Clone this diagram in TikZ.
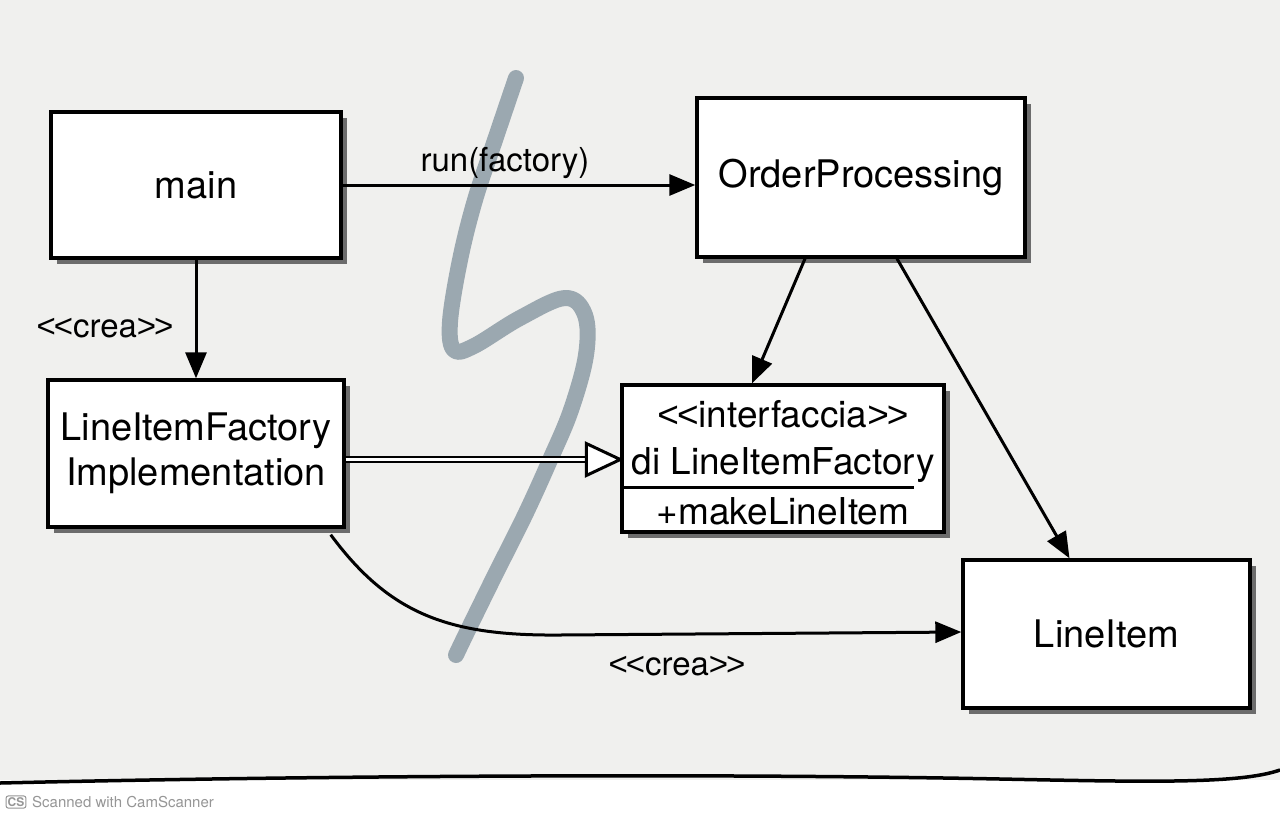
\documentclass[tikz,border=0pt]{standalone}
\usepackage{fontspec}
\setmainfont{TeX Gyre Heros}
\newfontfamily\libfont{Liberation Sans}
\usetikzlibrary{arrows.meta,shadows,calc}
\definecolor{paper}{RGB}{240,240,238}
\definecolor{sgray}{RGB}{155,168,176}
\definecolor{csgray}{RGB}{150,150,150}
\newcommand\ltlt{{\libfont<\kern-2pt<}}
\newcommand\gtgt{{\libfont>\kern-2pt>}}
\begin{document}
\begin{tikzpicture}[x=1pt,y=-1pt,
  box/.style={draw=black, line width=3.4pt, fill=white, inner sep=0pt, align=center,
    font=\fontsize{38}{45}\selectfont,
    drop shadow={shadow xshift=6pt, shadow yshift=-6pt, fill=black!70, opacity=0.8}},
  conn/.style={line width=3pt, -{Triangle[length=26pt,width=21pt]}},
  lbl/.style={font=\fontsize{33}{38}\selectfont, inner sep=0pt},
  itxt/.style={font=\fontsize{37}{40}\selectfont, inner sep=0pt, anchor=base},
  sline/.style={line width=16pt, draw=sgray, line cap=round, line join=round}]
\useasboundingbox (0,0) rectangle (1280,820);
% page
\fill[white] (0,0) rectangle (1280,820);
\fill[paper] (0,0) rectangle (1280,780);
\draw[line width=3.5pt] (0,783) .. controls (300,776) and (700,773) .. (1000,779) .. controls (1150,782) and (1240,784) .. (1280,770);
% gray scribble
\draw[sline] plot[smooth, tension=0.6] coordinates {(516,78) (495,140) (475,200) (460,260) (450,322) (454,350) (474,346) (520,318) (565,298) (585,315) (586,355) (571,410) (550,460) (525,515) (495,575) (468,630) (456,655)};
% boxes
\node[box, minimum width=290pt, minimum height=146pt] (main) at (196,185) {main};
\node[box, minimum width=328pt, minimum height=159pt] (op) at (861,177.5) {OrderProcessing};
\node[box, minimum width=296pt, minimum height=147pt] (impl) at (196,453.5) {LineItemFactory\\Implementation};
\node[box, minimum width=322pt, minimum height=147pt] (iface) at (783,458.5) {};
\node[box, minimum width=287pt, minimum height=148pt] (li) at (1106.5,634) {LineItem};
% interface contents
\node[itxt] (it1) at (783,427) {\ltlt interfaccia\gtgt};
\node[itxt] (it2) at (783,474) {di LineItemFactory};
\node[itxt] (it3) at (783,524) {+makeLineItem};
\draw[line width=3pt] (iface.west |- 0,487) coordinate (dv) -- (914,487) coordinate (dve);
% connectors
\draw[conn] (main.east) -- (main.east -| op.west);
\node[lbl, anchor=base] (l1) at (505,171) {run(factory)};
\draw[conn] (main.south) -- (impl.north);
\node[lbl] (l2) at (105,328) {\ltlt crea\gtgt};
\coordinate (rs) at ([yshift=-6pt]impl.east);
\coordinate (rt) at (rs -| iface.west);
\draw[line width=2.4pt, double=white, double distance=3pt] (rs) -- ([xshift=-33pt]rt);
\draw[line width=3pt, fill=white, line join=miter] (rt) -- ++(-34,-16) -- ++(0,32) -- cycle;
\draw[conn] ([xshift=-56pt]op.south) -- ([xshift=-31pt]iface.north);
\draw[conn] ([xshift=36pt]op.south) -- ([xshift=-37pt]li.north);
\draw[conn] ([xshift=-15pt,yshift=-6pt]impl.south east) .. controls (390,615) and (450,636) .. (560,635) -- ([yshift=2pt]li.west);
\node[lbl] (l3) at (677,666) {\ltlt crea\gtgt};
% scanner mark
\node[draw=csgray, fill=white, line width=1pt, rounded corners=2pt, text=csgray, font=\bfseries\fontsize{12}{12}\selectfont, inner sep=1.5pt] (cs) at (16,802) {CS};
\node[anchor=west, text=csgray, inner sep=0pt, font=\fontsize{15}{15}\selectfont] (scan) at (32,802) {Scanned with CamScanner};
\end{tikzpicture}
\end{document}
